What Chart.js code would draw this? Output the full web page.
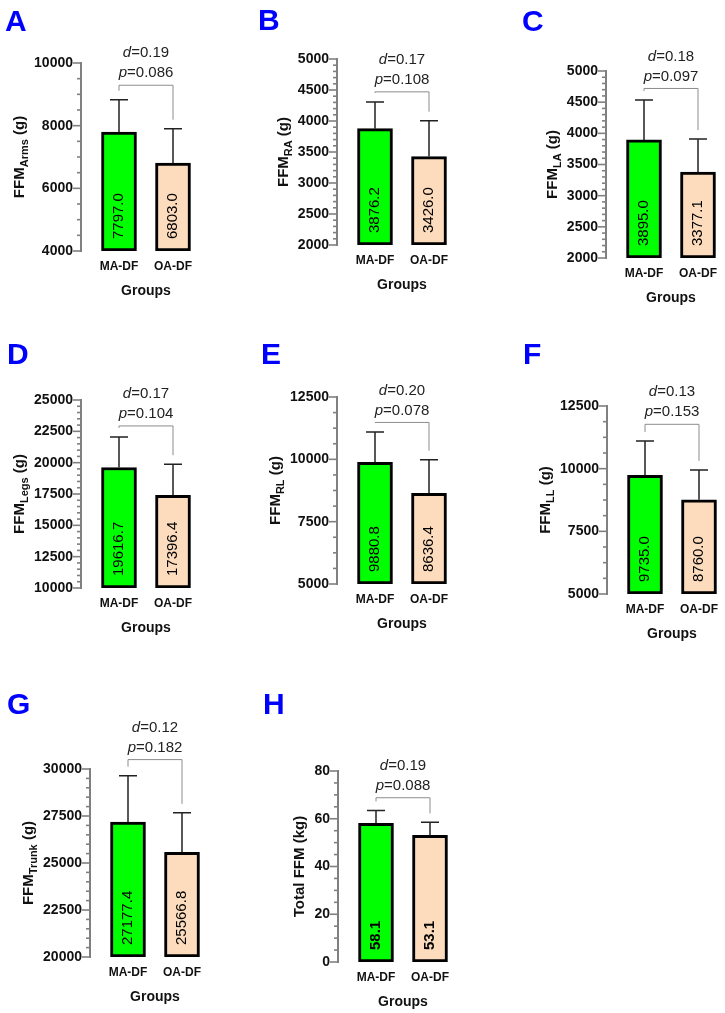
<!DOCTYPE html>
<html>
<head>
<meta charset="utf-8">
<title>FFM by group</title>
<script src="https://cdn.jsdelivr.net/npm/chart.js@4.4.0/dist/chart.umd.min.js"></script>
<style>
    html, body { margin: 0; padding: 0; background: #fff; overflow: hidden; width: 725px; height: 1013px; }
    #wrap { position: relative; width: 725px; height: 1013px; }
    #wrap canvas { position: absolute; }
</style>
</head>
<body>
<div id="wrap"></div>
<script>
    var FONT = "'Liberation Sans', Arial, Helvetica, sans-serif";

    var groups = ['MA-DF', 'OA-DF'];
    var barColors = ['#00ff00', '#fcdcbd'];

    // mean and SD per body region (SD)
    var armsMean = [7797.0, 6803.0];     var armsSD = [1030, 1100];
    var raMean = [3876.2, 3426.0];       var raSD = [430, 580];
    var laMean = [3895.0, 3377.1];       var laSD = [640, 530];
    var legsMean = [19616.7, 17396.4];   var legsSD = [2440, 2480];
    var rlMean = [9880.8, 8636.4];       var rlSD = [1220, 1350];
    var llMean = [9735.0, 8760.0];       var llSD = [1370, 1190];
    var trunkMean = [27177.4, 25566.8];  var trunkSD = [2470, 2100];
    var totalMean = [58.1, 53.1];        var totalSD = [5.4, 5.4];

    var cohenD = ['0.19', '0.17', '0.18', '0.17', '0.20', '0.13', '0.12', '0.19'];
    var pValues = ['0.086', '0.108', '0.097', '0.104', '0.078', '0.153', '0.182', '0.088'];
    var bracketAt = [9290, 4470, 4720, 22930, 11480, 11770, 30500, 68.8];

    // y axis ticks
    var yMin = [4000, 2000, 2000, 10000, 5000, 5000, 20000, 0];
    var yMax = [10000, 5000, 5000, 25000, 12500, 12500, 30000, 80];
    var yStep = [2000, 500, 500, 2500, 2500, 2500, 2500, 20];
    var yMinorStep = [500, 100, 100, 500, 625, 625, 500, 5];

    var panelLetters = ['A', 'B', 'C', 'D', 'E', 'F', 'G', 'H'];
    var titleMain = ['FFM', 'FFM', 'FFM', 'FFM', 'FFM', 'FFM', 'FFM', 'Total FFM'];
    var titleSub = ['Arms', 'RA', 'LA', 'Legs', 'RL', 'LL', 'Trunk', ''];
    var titleUnit = [' (g)', ' (g)', ' (g)', ' (g)', ' (g)', ' (g)', ' (g)', ' (kg)'];

    var allMeans = [armsMean, raMean, laMean, legsMean, rlMean, llMean, trunkMean, totalMean];
    var allSDs = [armsSD, raSD, laSD, legsSD, rlSD, llSD, trunkSD, totalSD];

    // page layout (pixels)
    var panels = [
        {axisX: 82,  top: 63,  bottom: 251, letterX: 5,   letterY: 31,  rowTop: 0,   rowH: 318},
        {axisX: 338, top: 59,  bottom: 245, letterX: 258, letterY: 30,  rowTop: 0,   rowH: 318},
        {axisX: 607, top: 71,  bottom: 258, letterX: 522, letterY: 31,  rowTop: 0,   rowH: 318},
        {axisX: 82,  top: 400, bottom: 588, letterX: 7,   letterY: 364, rowTop: 320, rowH: 335},
        {axisX: 338, top: 397, bottom: 584, letterX: 261, letterY: 364, rowTop: 320, rowH: 335},
        {axisX: 608, top: 406, bottom: 594, letterX: 523, letterY: 364, rowTop: 320, rowH: 335},
        {axisX: 91,  top: 769, bottom: 957, letterX: 7,   letterY: 714, rowTop: 658, rowH: 355},
        {axisX: 339, top: 771, bottom: 962, letterX: 263, letterY: 714, rowTop: 658, rowH: 355}
    ];
    var CANVAS_W = 240, AXIS_W = 90, PLOT_W = 128, XAXIS_H = 49;

    function drawStat(ctx, cx, cy, letter, rest) {
        ctx.font = 'italic 15px ' + FONT;
        var w1 = ctx.measureText(letter).width;
        ctx.font = '15px ' + FONT;
        var w2 = ctx.measureText(rest).width;
        var x0 = cx - (w1 + w2) / 2;
        ctx.font = 'italic 15px ' + FONT;
        ctx.fillText(letter, x0, cy);
        ctx.font = '15px ' + FONT;
        ctx.fillText(rest, x0 + w1, cy);
    }

    var decorPlugin = {
        id: 'decor',
        afterDraw: function(chart, args, o) {
            var ctx = chart.ctx;
            var area = chart.chartArea;
            var y = chart.scales.y;
            var i = o.i;
            var means = allMeans[i], sds = allSDs[i];
            var bars = chart.getDatasetMeta(0).data;
            var axX = area.left - 1;

            ctx.save();

            // y axis line with major and minor ticks
            ctx.strokeStyle = '#808080';
            ctx.lineWidth = 2;
            ctx.beginPath();
            ctx.moveTo(axX, area.top - 1);
            ctx.lineTo(axX, area.bottom + 1);
            ctx.stroke();
            ctx.lineWidth = 1.6;
            for (var v = yMin[i]; v <= yMax[i] + 1e-6; v += yMinorStep[i]) {
                var r = (v - yMin[i]) / yStep[i];
                var isMajor = Math.abs(r - Math.round(r)) < 1e-6;
                var py = y.getPixelForValue(v);
                ctx.beginPath();
                ctx.moveTo(axX - (isMajor ? 8 : 4), py);
                ctx.lineTo(axX, py);
                ctx.stroke();
            }

            // error bars (upper SD)
            var caps = [];
            ctx.strokeStyle = '#222';
            ctx.lineWidth = 1.5;
            bars.forEach(function(bar, k) {
                var top = y.getPixelForValue(means[k]);
                var cap = y.getPixelForValue(means[k] + sds[k]);
                caps.push(cap);
                ctx.beginPath();
                ctx.moveTo(bar.x, top);
                ctx.lineTo(bar.x, cap);
                ctx.moveTo(bar.x - 9, cap);
                ctx.lineTo(bar.x + 9, cap);
                ctx.stroke();
            });

            // comparison bracket
            var yb = y.getPixelForValue(bracketAt[i]);
            var x1 = bars[0].x, x2 = bars[1].x;
            ctx.strokeStyle = '#8c8c8c';
            ctx.lineWidth = 1;
            ctx.beginPath();
            ctx.moveTo(x1, caps[0] - 9);
            ctx.lineTo(x1, yb);
            ctx.lineTo(x2, yb);
            ctx.lineTo(x2, caps[1] - 9);
            ctx.stroke();

            // d and p text
            ctx.fillStyle = '#222';
            ctx.textAlign = 'left';
            ctx.textBaseline = 'middle';
            var cx = (x1 + x2) / 2;
            drawStat(ctx, cx, yb - 32, 'd', '=' + cohenD[i]);
            drawStat(ctx, cx, yb - 12, 'p', '=' + pValues[i]);

            // values inside bars
            ctx.fillStyle = '#000';
            ctx.font = (i === 7 ? 'bold ' : '') + '15px ' + FONT;
            bars.forEach(function(bar, k) {
                ctx.save();
                ctx.translate(bar.x, bar.base - 12);
                ctx.rotate(-Math.PI / 2);
                ctx.textAlign = 'left';
                ctx.textBaseline = 'middle';
                ctx.fillText(means[k].toFixed(1), 0, 0);
                ctx.restore();
            });

            // y title with subscript
            ctx.font = 'bold 14px ' + FONT;
            var maxW = 0;
            y.ticks.forEach(function(t) {
                maxW = Math.max(maxW, ctx.measureText(String(t.label)).width);
            });
            var tx = area.left - 9 - maxW - 15;
            var ty = (area.top + area.bottom) / 2;
            ctx.font = 'bold 15px ' + FONT;
            var wMain = ctx.measureText(titleMain[i]).width;
            var wUnit = ctx.measureText(titleUnit[i]).width;
            ctx.font = 'bold 11px ' + FONT;
            var wSub = titleSub[i] ? ctx.measureText(titleSub[i]).width : 0;
            ctx.save();
            ctx.translate(tx, ty);
            ctx.rotate(-Math.PI / 2);
            ctx.fillStyle = '#111';
            ctx.textAlign = 'left';
            ctx.textBaseline = 'alphabetic';
            var sx = -(wMain + wSub + wUnit) / 2;
            ctx.font = 'bold 15px ' + FONT;
            ctx.fillText(titleMain[i], sx, 5);
            if (titleSub[i]) {
                ctx.font = 'bold 11px ' + FONT;
                ctx.fillText(titleSub[i], sx + wMain, 9);
            }
            ctx.font = 'bold 15px ' + FONT;
            ctx.fillText(titleUnit[i], sx + wMain + wSub, 5);
            ctx.restore();

            // panel letter
            ctx.fillStyle = '#0000ff';
            ctx.font = 'bold 30px ' + FONT;
            ctx.textAlign = 'left';
            ctx.textBaseline = 'alphabetic';
            ctx.fillText(panelLetters[i], o.letterX, o.letterY);

            ctx.restore();
        }
    };

    function makePanel(i) {
        var L = panels[i];
        var canvasLeft = L.axisX - AXIS_W;
        var canvas = document.createElement('canvas');
        canvas.width = CANVAS_W;
        canvas.height = L.rowH;
        canvas.style.left = canvasLeft + 'px';
        canvas.style.top = L.rowTop + 'px';
        canvas.style.width = CANVAS_W + 'px';
        canvas.style.height = L.rowH + 'px';
        document.getElementById('wrap').appendChild(canvas);

        var means = allMeans[i];

        new Chart(canvas, {
            type: 'bar',
            data: {
                datasets: [{
                    data: means.map(function(v, k) { return {x: k + 1, y: v}; }),
                    base: yMin[i],
                    backgroundColor: barColors,
                    borderColor: '#000',
                    borderWidth: 3,
                    borderSkipped: false,
                    barThickness: 35
                }]
            },
            options: {
                responsive: false,
                animation: false,
                events: [],
                layout: {
                    padding: {
                        left: 0,
                        top: L.top - L.rowTop,
                        right: CANVAS_W - AXIS_W - PLOT_W,
                        bottom: L.rowH - (L.bottom - L.rowTop) - XAXIS_H
                    }
                },
                plugins: {
                    legend: { display: false },
                    tooltip: { enabled: false },
                    decor: {
                        i: i,
                        letterX: L.letterX - canvasLeft,
                        letterY: L.letterY - L.rowTop
                    }
                },
                scales: {
                    x: {
                        type: 'linear',
                        offset: false,
                        bounds: 'data',
                        min: 1 - 37 / 54,
                        max: 2 + 37 / 54,
                        afterBuildTicks: function(s) {
                            s.ticks = groups.map(function(g, k) { return {value: k + 1}; });
                        },
                        afterFit: function(s) { s.height = XAXIS_H; },
                        grid: { display: false, drawTicks: false, offset: false },
                        border: { display: false },
                        ticks: {
                            autoSkip: false,
                            maxRotation: 0,
                            padding: 8,
                            color: '#111',
                            font: { family: FONT, size: 12, weight: 'bold' },
                            callback: function(v, idx) { return groups[idx]; }
                        },
                        title: {
                            display: true,
                            text: 'Groups',
                            color: '#111',
                            padding: { top: 0, bottom: 0 },
                            font: { family: FONT, size: 14, weight: 'bold' }
                        }
                    },
                    y: {
                        min: yMin[i],
                        max: yMax[i],
                        afterFit: function(s) { s.width = AXIS_W; },
                        grid: { display: false, drawTicks: false },
                        border: { display: false },
                        ticks: {
                            stepSize: yStep[i],
                            padding: 9,
                            color: '#111',
                            font: { family: FONT, size: 14, weight: 'bold' },
                            callback: function(v) { return String(v); }
                        }
                    }
                }
            },
            plugins: [decorPlugin]
        });
    }

    for (var i = 0; i < panels.length; i++) {
        makePanel(i);
    }
</script>
</body>
</html>
